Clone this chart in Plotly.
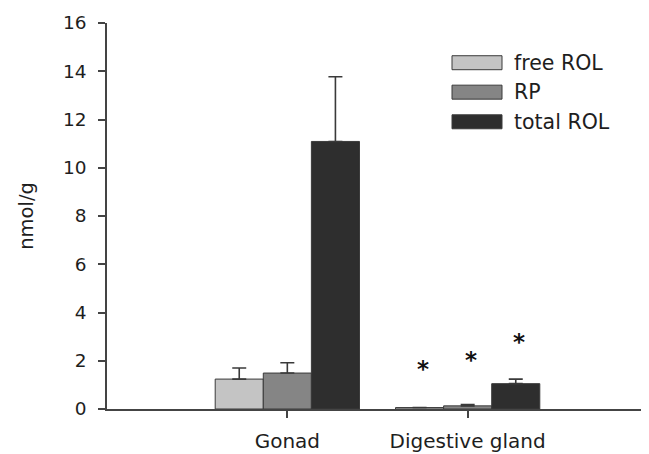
import plotly.graph_objects as go

categories = ["Gonad", "Digestive gland"]
series_names = ["free ROL", "RP", "total ROL"]
free_rol = [1.24, 0.06]
rp = [1.49, 0.13]
total_rol = [11.09, 1.05]
free_rol_se = [0.46, 0.0]
rp_se = [0.43, 0.05]
total_rol_se = [2.68, 0.19]
sig_y = [1.79, 2.14, 2.92]  # asterisk heights over Digestive gland bars
y_ticks = [0, 2, 4, 6, 8, 10, 12, 14, 16]

colors = ["#c4c4c4", "#858585", "#2e2e2e"]
values = [free_rol, rp, total_rol]
errors = [free_rol_se, rp_se, total_rol_se]

FONT = "DejaVu Sans"
TXT = "#1e1e1e"

fig = go.Figure()
for name, vals, err, col in zip(series_names, values, errors, colors):
    fig.add_trace(go.Bar(
        name=name, x=categories, y=vals, marker_color=col,
        marker_line=dict(color="#3a3a3a", width=1),
        error_y=dict(type="data", symmetric=False, array=err,
                     arrayminus=[0] * len(err), color="#3a3a3a",
                     thickness=1.6, width=7),
        showlegend=False,
    ))

# significance asterisks
for i, yv in enumerate(sig_y):
    fig.add_annotation(x=categories[1], y=yv, xref="x", yref="y",
                       text="<b>*</b>", showarrow=False,
                       xshift=(i - 1) * 48 + 3, yshift=-3,
                       font=dict(family=FONT, size=23, color="#111111"))

# page offset (body margin) of 8px
OFF = 8
FW, FH = 649 - OFF, 454 - OFF
L, R, T, B = 107 - OFF, 648 - OFF, 22.7 - OFF, 409.5 - OFF
W, H = R - L, B - T
def px(x):
    return (x - OFF - L) / W
def py(y):
    return (B - (y - OFF)) / H

# manual legend
row_y = [62.5, 92.0, 121.7]
for name, col, yc in zip(series_names, colors, row_y):
    fig.add_shape(type="rect", xref="paper", yref="paper",
                  x0=px(452), x1=px(502), y0=py(yc + 7), y1=py(yc - 7),
                  fillcolor=col, line=dict(color="#3a3a3a", width=1))
    fig.add_annotation(xref="paper", yref="paper", x=px(512), y=py(yc),
                       text=name, showarrow=False, xanchor="left",
                       yanchor="middle",
                       font=dict(family=FONT, size=20.5, color=TXT))

fig.update_layout(
    width=FW, height=FH, autosize=False,
    margin=dict(l=L, r=FW - R, t=T, b=FH - B, autoexpand=False),
    plot_bgcolor="white", paper_bgcolor="white",
    barmode="group", bargap=0.2, bargroupgap=0,
    font=dict(family=FONT, size=18, color=TXT),
)
fig.update_xaxes(range=[-1, 2], showline=True, linecolor="#444444",
                 linewidth=1.5, ticks="outside", ticklen=7,
                 tickcolor="#444444", tickwidth=1.5, showgrid=False,
                 zeroline=False, ticklabelstandoff=6,
                 tickfont=dict(family=FONT, size=20, color=TXT))
fig.update_yaxes(range=[0, 16], tickvals=y_ticks, showline=True,
                 linecolor="#444444", linewidth=1.5, ticks="outside",
                 ticklen=7, tickcolor="#444444", tickwidth=1.5,
                 showgrid=False, zeroline=False, ticklabelstandoff=8,
                 title=dict(text="nmol/g", standoff=24,
                            font=dict(family=FONT, size=19.5, color=TXT)),
                 tickfont=dict(family=FONT, size=18.5, color=TXT))

fig.write_html("out.html")
